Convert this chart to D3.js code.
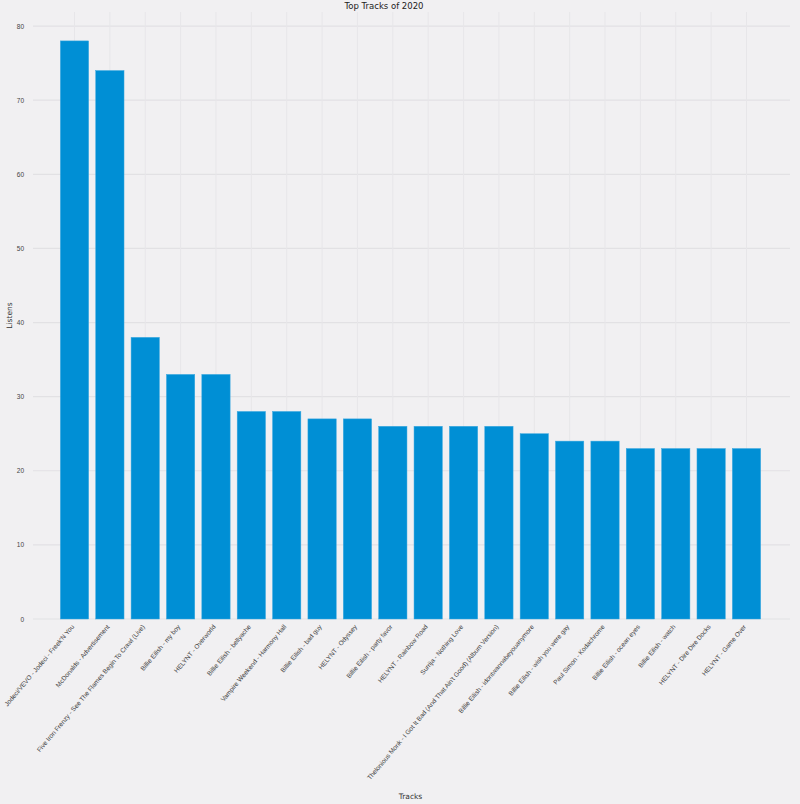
<!DOCTYPE html>
<html>
<head>
<meta charset="utf-8">
<script src="https://cdn.jsdelivr.net/npm/d3@7"></script>
<style>
  body { margin: 0; background: #f0f0f0; }
  svg { display: block; font-family: "DejaVu Sans", sans-serif; }
</style>
</head>
<body>
<svg id="chart" width="800" height="804"></svg>
<script>
// top tracks and their listen counts
const tracks = [
    "Jodeci/VEVO - Jodeci - Freek'N You",
    "McDonalds - Advertisement",
    "Five Iron Frenzy - See The Flames Begin To Crawl (Live)",
    "Billie Eilish - my boy",
    "HELYNT - Overworld",
    "Billie Eilish - bellyache",
    "Vampire Weekend - Harmony Hall",
    "Billie Eilish - bad guy",
    "HELYNT - Odyssey",
    "Billie Eilish - party favor",
    "HELYNT - Rainbow Road",
    "Surrija - Nothing Love",
    "Thelonious Monk - I Got It Bad (And That Ain't Good) (Album Version)",
    "Billie Eilish - idontwannabeyouanymore",
    "Billie Eilish - wish you were gay",
    "Paul Simon - Kodachrome",
    "Billie Eilish - ocean eyes",
    "Billie Eilish - watch",
    "HELYNT - Dire Dire Docks",
    "HELYNT - Game Over"
];
const listens = [78, 74, 38, 33, 33, 28, 28, 27, 27, 26, 26, 26, 26, 25, 24, 24, 23, 23, 23, 23];
const yTicks = [0, 10, 20, 30, 40, 50, 60, 70, 80];

const svg = d3.select("#chart");
const mLeft = 31, mRight = 790, mTop = 12, mBottom = 619;

let x = d3.scaleBand()
    .domain(tracks)
    .range([mLeft, mRight])
    .paddingInner(0.2)
    .paddingOuter(0.83);

let y = d3.scaleLinear()
    .domain([0, d3.max(listens) * 1.05])
    .range([mBottom, mTop]);

svg.append("rect")
    .attr("width", 800).attr("height", 804)
    .attr("fill", "#f1f0f2");

// grid
let grid = svg.append("g");
grid.selectAll(".hg")
    .data(yTicks)
    .join("line")
    .attr("x1", mLeft + 2).attr("x2", mRight)
    .attr("y1", d => y(d)).attr("y2", d => y(d))
    .attr("stroke", "#e2e1e4")
    .attr("stroke-width", 1.2);
grid.selectAll(".vg")
    .data(tracks)
    .join("line")
    .attr("x1", d => x(d) + x.bandwidth() / 2)
    .attr("x2", d => x(d) + x.bandwidth() / 2)
    .attr("y1", mTop).attr("y2", mBottom)
    .attr("stroke", "#e7e6e9")
    .attr("stroke-width", 1);

// bars
svg.append("g")
    .selectAll("rect")
    .data(tracks)
    .join("rect")
    .attr("x", d => x(d))
    .attr("width", x.bandwidth())
    .attr("y", (d, i) => y(listens[i]))
    .attr("height", (d, i) => y(0) - y(listens[i]))
    .attr("fill", "#008fd5")
    .attr("stroke", "#3aa8e0")
    .attr("stroke-width", 0.5);

// y axis
let yAxis = svg.append("g")
    .attr("transform", `translate(${mLeft - 4},0)`)
    .call(d3.axisLeft(y).tickValues(yTicks).tickSize(0).tickPadding(3));
yAxis.select(".domain").remove();
yAxis.selectAll("text")
    .attr("font-size", 6.5)
    .attr("fill", "#444");

// x axis, labels tilted
let xAxis = svg.append("g")
    .attr("transform", `translate(0,${mBottom})`)
    .call(d3.axisBottom(x).tickSize(0).tickPadding(0));
xAxis.select(".domain").remove();
xAxis.selectAll("text")
    .attr("font-size", 6.5)
    .attr("fill", "#444")
    .attr("text-anchor", "end")
    .attr("dy", null)
    .attr("y", null)
    .attr("transform", "translate(0,8) rotate(-50)");

// labels
svg.append("text")
    .attr("x", 384).attr("y", 9)
    .attr("text-anchor", "middle")
    .attr("font-size", 8.5)
    .attr("fill", "#222")
    .text("Top Tracks of 2020");

svg.append("text")
    .attr("transform", `translate(12,${(mTop + mBottom) / 2}) rotate(-90)`)
    .attr("text-anchor", "middle")
    .attr("font-size", 7.5)
    .attr("fill", "#333")
    .text("Listens");

svg.append("text")
    .attr("x", (mLeft + mRight) / 2).attr("y", 799)
    .attr("text-anchor", "middle")
    .attr("font-size", 7.5)
    .attr("fill", "#333")
    .text("Tracks");
</script>
</body>
</html>
